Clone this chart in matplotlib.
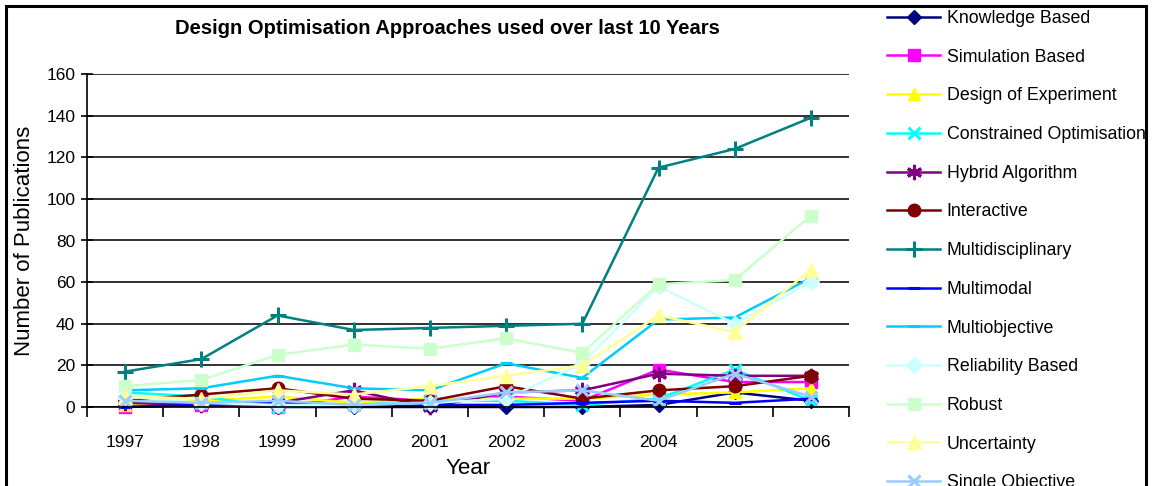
import matplotlib
matplotlib.use("Agg")
import matplotlib.pyplot as plt
from matplotlib.patches import Rectangle

plt.rcParams['font.family'] = ['Liberation Sans', 'DejaVu Sans']

years = ['1997', '1998', '1999', '2000', '2001', '2002', '2003', '2004', '2005', '2006']

knowledge_based = [1, 1, 0, 0, 0, 0, 0, 1, 7, 3]
simulation_based = [0, 1, 0, 5, 3, 5, 3, 18, 12, 12]
design_of_experiment = [1, 3, 5, 2, 4, 4, 4, 6, 7, 9]
constrained_opt = [7, 5, 0, 1, 3, 3, 1, 4, 18, 3]
hybrid_algorithm = [2, 1, 2, 8, 0, 7, 8, 16, 15, 15]
interactive = [3, 6, 9, 4, 3, 10, 4, 8, 10, 15]
multidisciplinary = [17, 23, 44, 37, 38, 39, 40, 115, 124, 139]
multimodal = [0, 1, 2, 1, 1, 1, 2, 3, 2, 4]
multiobjective = [8, 9, 15, 9, 8, 21, 14, 42, 43, 62]
reliability_based = [5, 2, 1, 1, 2, 4, 21, 58, 40, 60]
robust = [10, 13, 25, 30, 28, 33, 26, 59, 61, 92]
uncertainty = [5, 4, 8, 6, 10, 15, 20, 44, 36, 66]
single_objective = [3, 2, 3, 1, 2, 7, 8, 3, 16, 5]

series = [
    ("Knowledge Based", knowledge_based, '#000080', 'D', 7),
    ("Simulation Based", simulation_based, '#FF00FF', 's', 8),
    ("Design of Experiment", design_of_experiment, '#FFFF00', '^', 9),
    ("Constrained Optimisation", constrained_opt, '#00FFFF', 'x', 9),
    ("Hybrid Algorithm", hybrid_algorithm, '#800080', (6, 2, 0), 11),
    ("Interactive", interactive, '#800000', 'o', 9),
    ("Multidisciplinary", multidisciplinary, '#008080', '+', 11),
    ("Multimodal", multimodal, '#0000FF', '_', 8),
    ("Multiobjective", multiobjective, '#00CCFF', '_', 8),
    ("Reliability Based", reliability_based, '#CCFFFF', 'D', 8),
    ("Robust", robust, '#CCFFCC', 's', 9),
    ("Uncertainty", uncertainty, '#FFFF99', '^', 10),
    ("Single Objective", single_objective, '#99CCFF', 'x', 9),
]

fig = plt.figure(figsize=(11.52, 4.86), dpi=100)
ax = fig.add_axes([87/1152, 1-407/486, (849-87)/1152, (407-74)/486])

x = list(range(len(years)))
handles = []
for name, vals, col, mk, ms in series:
    mew = 2.2 if mk in ('x', '+', '_') or isinstance(mk, tuple) else 1
    h, = ax.plot(x, vals, color=col, marker=mk, markersize=ms, lw=1.8,
                 markeredgecolor=col, markerfacecolor=col, markeredgewidth=mew,
                 label=name, clip_on=False)
    handles.append(h)

ax.set_xlim(-0.5, 9.5)
ax.set_ylim(0, 160)
ax.set_yticks(range(0, 161, 20))
ax.set_xticks([i - 0.5 for i in range(11)])
ax.set_xticklabels([])
ax.set_xticks(x, minor=True)
ax.set_xticklabels(years, minor=True)
ax.tick_params(axis='x', which='major', direction='out', length=7, width=1.2)
ax.tick_params(axis='x', which='minor', length=0, pad=20, labelsize=12.5)
ax.tick_params(axis='y', direction='inout', length=9, width=1.2, labelsize=12.5, pad=4)
for s in ('top', 'right'):
    ax.spines[s].set_visible(False)
ax.spines['left'].set_linewidth(1.2)
ax.spines['bottom'].set_linewidth(1.2)
ax.yaxis.grid(True, color='#222222', lw=1.3)
ax.set_axisbelow(True)

ax.set_xlabel('Year', fontsize=16, labelpad=6)
ax.set_ylabel('Number of Publications', fontsize=16, labelpad=8)
fig.text(447/1152, 1-28/486, 'Design Optimisation Approaches used over last 10 Years',
         ha='center', va='center', fontsize=14.5, fontweight='bold')

fig.legend(handles=handles, loc='upper left', bbox_to_anchor=(887/1152, 1-10/486),
           frameon=False, fontsize=12.8, handlelength=3.0, handletextpad=0.35,
           labelspacing=1.22, borderpad=0, borderaxespad=0)

fig.patches.append(Rectangle((6/1152, -0.2), (1146-6)/1152, 1.2 - 6/486,
                             transform=fig.transFigure, fill=False,
                             edgecolor='black', lw=2.2))

fig.savefig('out.png', dpi=100)
